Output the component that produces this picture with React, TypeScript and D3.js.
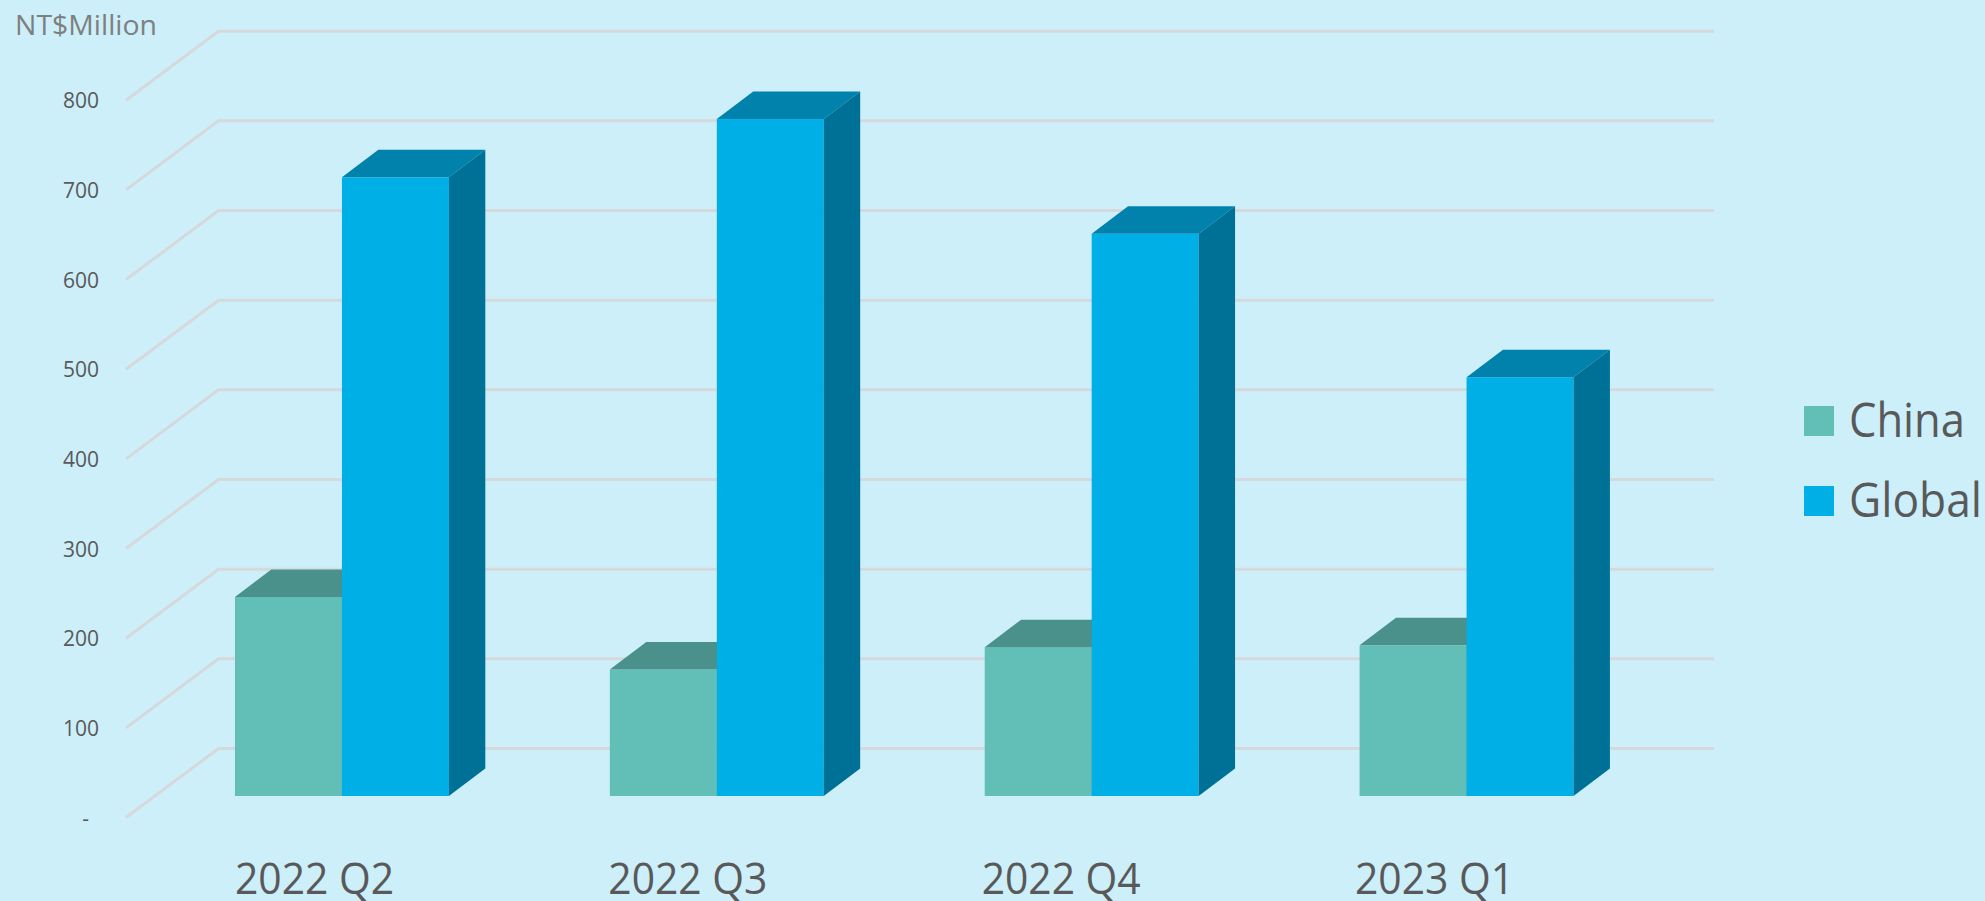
import React from "react";
import * as d3 from "d3";

const categories = ["2022 Q2", "2022 Q3", "2022 Q4", "2023 Q1"];
const chinaValues = [222, 141, 166, 168];
const globalValues = [690, 755, 627, 467];
const yTicks = [0, 100, 200, 300, 400, 500, 600, 700, 800];
const seriesNames = ["China", "Global"];
const seriesColors = { China: { front: "#62BFB7", top: "#4A918B", side: "#3F7F7A" }, Global: { front: "#00AFE6", top: "#0082AD", side: "#007196" } };
const legendWidths = [116, 133];

const W = 1985, H = 901;
const font = "'Open Sans', sans-serif";
const depthX = 36.4, depthY = 27.5;
const gridFrontX = 126, gridBackX = 218.5, gridEndX = 1714;

export default function App() {
  const yFloor = d3.scaleLinear().domain([0, 800]).range([817.5, 100.2]);
  const yBar = d3.scaleLinear().domain([0, 800]).range([796, 78.7]);
  const x0 = d3.scaleBand<string>().domain(categories).range([154.5, 1654]).paddingInner(161 / 375).paddingOuter(80.5 / 375);
  const x1 = d3.scaleBand<string>().domain(seriesNames).range([0, x0.bandwidth()]);
  const labelX = d3.scalePoint<string>().domain(categories).range([235, 1355]);
  const backOffsetY = 817 - 748;

  const bar = (cat: string, name: "China" | "Global", v: number) => {
    const l = x0(cat)! + x1(name)!;
    const r = l + x1.bandwidth();
    const t = yBar(v), b = yBar(0);
    const c = seriesColors[name];
    return (
      <g key={cat + name}>
        <rect x={l} y={t} width={r - l} height={b - t} fill={c.front} />
        <polygon points={`${l},${t} ${l + depthX},${t - depthY} ${r + depthX},${t - depthY} ${r},${t}`} fill={c.top} />
        <polygon points={`${r},${t} ${r + depthX},${t - depthY} ${r + depthX},${b - depthY} ${r},${b}`} fill={c.side} />
      </g>
    );
  };

  return (
    <svg width={W} height={H} viewBox={`0 0 ${W} ${H}`} style={{ position: "absolute", left: 0, top: 0, background: "#CCEFFA", display: "block" }}>
      <rect width={W} height={H} fill="#CCEFFA" />
      {yTicks.map((t) => {
        const f = yFloor(t);
        return (
          <g key={t}>
            <polyline points={`${gridFrontX},${f} ${gridBackX},${f - backOffsetY} ${gridEndX},${f - backOffsetY}`} fill="none" stroke="#D5D9DB" strokeWidth={3} />
            <text x={t === 0 ? 89 : 99} y={f + 8} textAnchor="end" fontFamily={font} fontSize={21} fill="#595959">{t === 0 ? "-" : t}</text>
          </g>
        );
      })}
      {categories.map((c, i) => (
        <g key={c}>
          {bar(c, "China", chinaValues[i])}
          {bar(c, "Global", globalValues[i])}
        </g>
      ))}
      {categories.map((c) => (
        <text key={c} x={labelX(c)} y={894} textLength={159} lengthAdjust="spacingAndGlyphs" fontFamily={font} fontSize={44} fill="#595959">{c}</text>
      ))}
      <text x={15} y={35} textLength={142} lengthAdjust="spacingAndGlyphs" fontFamily={font} fontSize={28} fill="#7F7F7F">NT$Million</text>
      {seriesNames.map((n, i) => (
        <g key={n}>
          <rect x={1804} y={406 + i * 80} width={30} height={30} fill={seriesColors[n as "China"].front} />
          <text x={1849} y={436.5 + i * 80} textLength={legendWidths[i]} lengthAdjust="spacingAndGlyphs" fontFamily={font} fontSize={48} fill="#595959">{n}</text>
        </g>
      ))}
    </svg>
  );
}
